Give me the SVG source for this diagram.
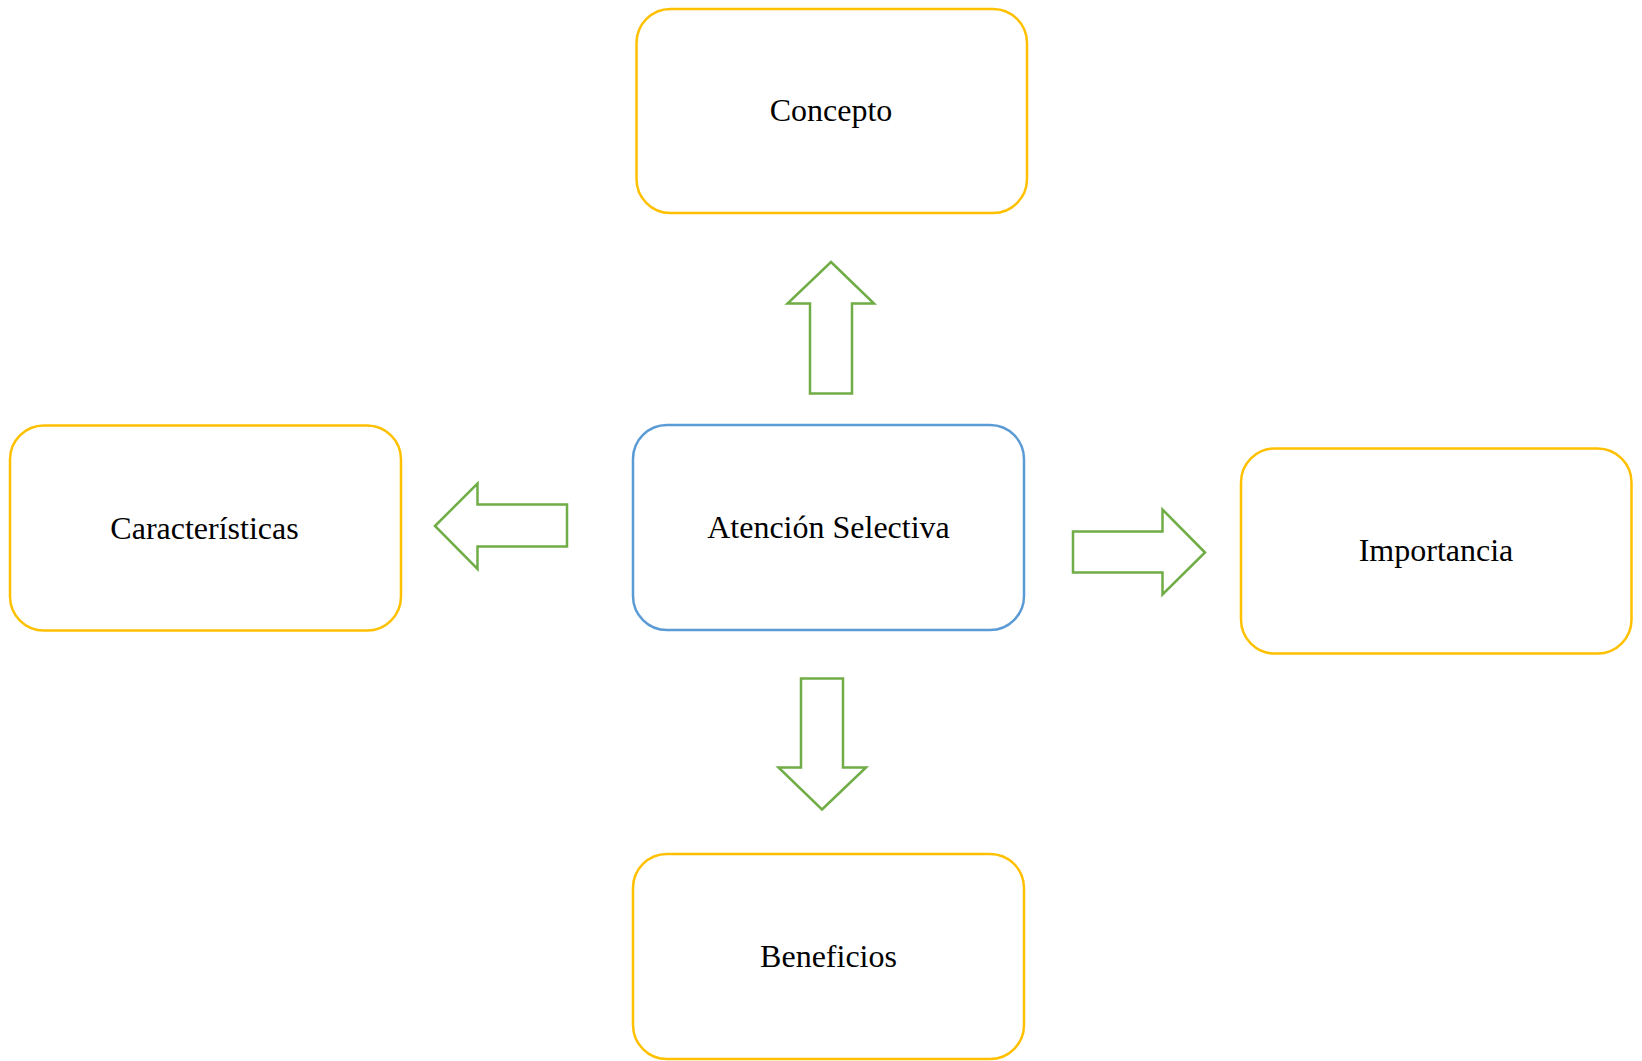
<svg xmlns="http://www.w3.org/2000/svg" width="1642" height="1061" viewBox="0 0 1642 1061">
<style>
.box{fill:#fff;stroke-width:2.5}
.y{stroke:#FFC000}
.b{stroke:#5B9BD5}
.lbl{font-family:"Liberation Serif","Times New Roman",serif;font-size:32px;fill:#000;text-anchor:middle}
.arr{fill:#fff;stroke:#70AD47;stroke-width:2.5;stroke-linejoin:miter}
</style>
<rect width="1642" height="1061" fill="#fff"/>
<g id="connectors">
<polygon class="arr" points="831,262 874,303.5 852,303.5 852,393.5 810,393.5 810,303.5 787.5,303.5"/>
<polygon class="arr" points="435,526 477.5,483.5 477.5,504.5 567,504.5 567,546.5 477.5,546.5 477.5,569"/>
<polygon class="arr" points="1205,552.5 1162.5,509.5 1162.5,531.5 1073,531.5 1073,572.5 1162.5,572.5 1162.5,594.5"/>
<polygon class="arr" points="822,809.5 866,767.5 843,767.5 843,678.5 801,678.5 801,767.5 778.5,767.5"/>
</g>
<g id="concepto">
<rect class="box y" x="636.5" y="9" width="390.5" height="204" rx="34"/>
<text class="lbl" x="831" y="121">Concepto</text>
</g>
<g id="atencion">
<rect class="box b" x="633" y="425" width="391" height="205" rx="34"/>
<text class="lbl" x="828.5" y="538">Atención Selectiva</text>
</g>
<g id="caracteristicas">
<rect class="box y" x="10" y="425.5" width="391" height="205" rx="34"/>
<text class="lbl" x="204.5" y="539">Características</text>
</g>
<g id="importancia">
<rect class="box y" x="1241" y="448.5" width="390.5" height="205" rx="34"/>
<text class="lbl" x="1436" y="561">Importancia</text>
</g>
<g id="beneficios">
<rect class="box y" x="633" y="854" width="391" height="205" rx="34"/>
<text class="lbl" x="828.5" y="967">Beneficios</text>
</g>
</svg>
